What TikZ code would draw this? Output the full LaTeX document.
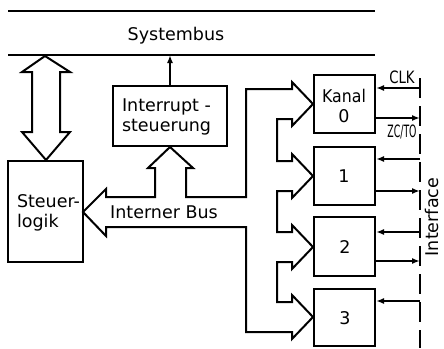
\documentclass[tikz,border=0pt]{standalone}
\usepackage{fontspec}
\usepackage{graphicx}
\setmainfont{DejaVu Sans}
\usetikzlibrary{arrows.meta}
\begin{document}
\begin{tikzpicture}[x=1pt,y=-1pt,
  line width=2pt, line join=miter,
  lbl/.style={font=\fontsize{17.5}{20}\selectfont, inner sep=0pt},
  sig/.style={font=\fontsize{17}{19}\selectfont, inner sep=0pt},
  block/.style={draw, inner sep=0pt},
  tip/.style={-{Latex[length=8pt,width=6pt]}},
  iface/.style={dash pattern=on 20pt off 8pt}]
\useasboundingbox (0,0) rectangle (444,348);

% system bus lines
\coordinate (sb1l) at (8,11);  \coordinate (sb1r) at (375,11);
\coordinate (sb2l) at (8,55);  \coordinate (sb2r) at (375,55);
\draw (sb1l) -- (sb1r);
\draw (sb2l) -- (sb2r);
\node[lbl] (sbtxt) at (176,36) {Systembus};

% blocks
\node[block, minimum width=75pt, minimum height=101pt] (logik) at (45.5,211.5) {};
\node[lbl, anchor=west, align=left] (logiktxt) at (16,213) {Steuer-\\logik};
\node[block, minimum width=114pt, minimum height=60pt] (irq) at (170,116) {};
\node[lbl, anchor=west, align=left] (irqtxt) at (121,117) {Interrupt -\\steuerung};

\node[block, minimum width=61pt, minimum height=58pt] (k0) at (344.5,104) {};
\node[block, minimum width=61pt, minimum height=58pt] (k1) at (344.5,176) {};
\node[block, minimum width=61pt, minimum height=59pt] (k2) at (344.5,246.5) {};
\node[block, minimum width=61pt, minimum height=57pt] (k3) at (344.5,317.5) {};
\node[lbl, align=center] (k0txt) at (344,106) {\scalebox{0.9}[1]{Kanal}\\0};
\node[lbl] (k1txt) at (344,176) {1};
\node[lbl] (k2txt) at (345,247) {2};
\node[lbl] (k3txt) at (345,318) {3};

% double arrow between system bus and control logic
\draw (45,56) -- (70,72) -- (60,72) -- (60,132) -- (70,132) -- (46,160)
      -- (22,132) -- (32,132) -- (32,72) -- (22,72) -- cycle;

% interrupt request to the system bus
\coordinate (irqbus) at (170,55);
\draw[tip] (irq.north) -- (irqbus);

% internal bus with branches to the channels
\draw (83,212) -- (106,189) -- (106,197) -- (155,197) -- (155,168) -- (148,168)
  -- (170,147) -- (193,168) -- (186,168) -- (186,197) -- (246,197) -- (246,89)
  -- (292,89) -- (292,82) -- (313,104) -- (292,126) -- (292,119) -- (277,119)
  -- (277,161) -- (292,161) -- (292,154) -- (313,176) -- (292,198) -- (292,191)
  -- (277,191) -- (277,232) -- (292,232) -- (292,225) -- (313,247) -- (292,269)
  -- (292,262) -- (277,262) -- (277,302) -- (292,302) -- (292,295) -- (313,317)
  -- (292,339) -- (292,332) -- (246,332) -- (246,227) -- (106,227) -- (106,236)
  -- cycle;
\node[lbl] (ibtxt) at (164,212) {Interner Bus};

% interface line
\coordinate (ift) at (420,78);
\coordinate (ifb) at (420,348);
\draw[iface] (ift) -- (ifb);
\node[lbl, rotate=90] (iftxt) at (432,217) {Interface};

% channel signals
\coordinate (i0) at (420,88);   \coordinate (o0) at (420,118);
\coordinate (i1) at (420,159);  \coordinate (o1) at (420,191);
\coordinate (i2) at (420,232);  \coordinate (o2) at (420,261);
\coordinate (i3) at (420,301);
\draw[tip] (i0) -- (k0.east |- i0);
\draw[tip] (k0.east |- o0) -- (o0);
\draw[tip] (i1) -- (k1.east |- i1);
\draw[tip] (k1.east |- o1) -- (o1);
\draw[tip] (i2) -- (k2.east |- i2);
\draw[tip] (k2.east |- o2) -- (o2);
\draw[tip] (i3) -- (k3.east |- i3);
\node[sig] (clk) at (402,77) {\scalebox{0.78}[1]{CLK}};
\node[sig] (zcto) at (402,132) {\scalebox{0.55}[1]{ZC/TO}};
\end{tikzpicture}
\end{document}
